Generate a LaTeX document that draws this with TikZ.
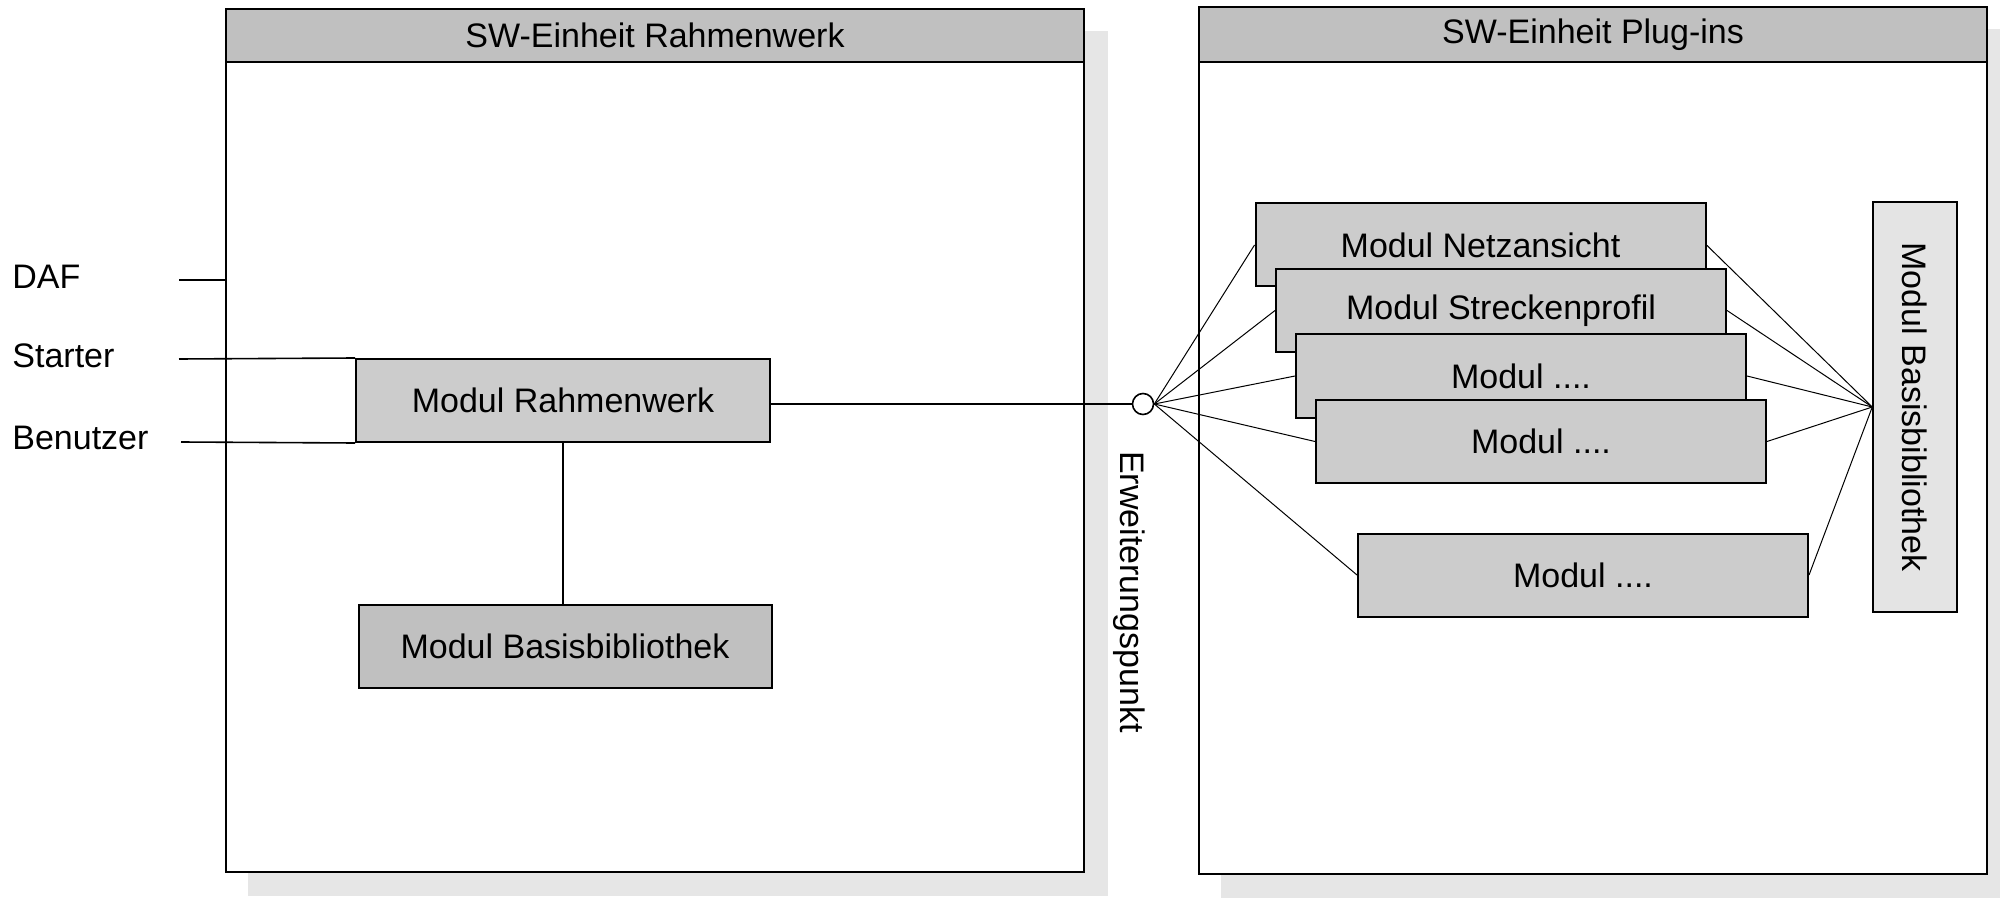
\documentclass[tikz,border=0pt]{standalone}
\usepackage{fontspec}
\usepackage{graphicx}
\setmainfont{Liberation Sans}
\usetikzlibrary{backgrounds,calc}

\definecolor{headgray}{HTML}{C0C0C0}
\definecolor{modgray}{HTML}{CCCCCC}
\definecolor{libgray}{HTML}{C0C0C0}
\definecolor{paleGray}{HTML}{E4E4E4}
\definecolor{shadowgray}{HTML}{E6E6E6}

\tikzset{
  unitframe/.style={draw=black, line width=1pt, fill=white, inner sep=0pt},
  unithead/.style={draw=black, line width=1pt, fill=headgray, inner sep=0pt},
  modbox/.style={draw=black, line width=1pt, fill=modgray, inner sep=0pt,
                 minimum width=225pt, minimum height=41.5pt},
  wire/.style={draw=black, line width=0.8pt},
  thinwire/.style={draw=black, line width=0.5pt},
  actor/.style={anchor=west, inner sep=0pt},
  every node/.style={font=\fontsize{17}{20}\selectfont},
}

\begin{document}
\begin{tikzpicture}[x=0.5pt, y=-0.5pt]
\useasboundingbox (0,0) rectangle (2000,898);

% ---- software unit: framework ----
\node[unitframe, minimum width=429pt, minimum height=431.5pt] (rw) at (655,440.5) {};
\node[unithead, minimum width=429pt, minimum height=26.5pt] (rwh) at (655,35.5) {SW-Einheit Rahmenwerk};

% ---- software unit: plug-ins ----
\node[unitframe, minimum width=394pt, minimum height=433.5pt] (pg) at (1593,440.5) {};
\node[unithead, minimum width=394pt, minimum height=27.5pt] (pgh) at (1593,34.5) {SW-Einheit Plug-ins};

% drop shadows behind both units
\begin{scope}[on background layer]
  \fill[shadowgray] ($(rw.north west)+(23,23)$) rectangle ($(rw.south east)+(23,23)$);
  \fill[shadowgray] ($(pg.north west)+(23,23)$) rectangle ($(pg.south east)+(23,23)$);
\end{scope}

% ---- framework modules ----
\node[draw=black, line width=1pt, fill=modgray, inner sep=0pt,
      minimum width=207pt, minimum height=41.5pt] (mrw) at (563,400.5) {Modul Rahmenwerk};
\node[draw=black, line width=1pt, fill=libgray, inner sep=0pt,
      minimum width=206.5pt, minimum height=41.5pt] (mbb) at (565,646.7) {Modul Basisbibliothek};
\draw[wire] (mrw.south) -- (mrw.south |- mbb.north);

% ---- actors ----
\node[actor] (daf) at (12,277) {DAF};
\node[actor] (starter) at (12,356) {Starter};
\node[actor] (benutzer) at (12,437.5) {Benutzer};
\coordinate (dafend) at (179,280);
\coordinate (starterend) at (179,359);
\coordinate (benutzerend) at (181,442);
\draw[wire] (dafend) -- (dafend -| rw.west);
\draw[wire] (starterend) -- (mrw.north west);
\draw[wire] (benutzerend) -- (mrw.south west);

% ---- extension point ----
\node[circle, draw=black, line width=0.8pt, fill=white, inner sep=0pt,
      minimum size=10.5pt] (ep) at (1143,404) {};
\draw[wire] (mrw.east |- ep.west) -- (ep.west);
\node[inner sep=0pt] (eplabel) at (1129,592) {\rotatebox{-90}{Erweiterungspunkt}};

% ---- plug-in modules ----
\node[draw=black, line width=1pt, fill=paleGray, inner sep=0pt,
      minimum width=41.75pt, minimum height=205.3pt] (bbr) at (1915,407)
      {\rotatebox{-90}{Modul Basisbibliothek}};

\node[modbox] (m1) at (1480.5,245) {Modul Netzansicht};
\node[modbox] (m2) at (1501,310.5) {Modul Streckenprofil};
\node[modbox] (m3) at (1521,376) {Modul ....};
\node[modbox] (m4) at (1541,441.5) {Modul ....};
\node[modbox] (m5) at (1583,575) {Modul ....};

% connections through the extension point and to the shared library
\foreach \m in {m1,m2,m3,m4,m5} {
  \draw[thinwire] (ep.east) -- (\m.west);
  \draw[thinwire] (\m.east) -- (bbr.west);
}

\end{tikzpicture}
\end{document}
